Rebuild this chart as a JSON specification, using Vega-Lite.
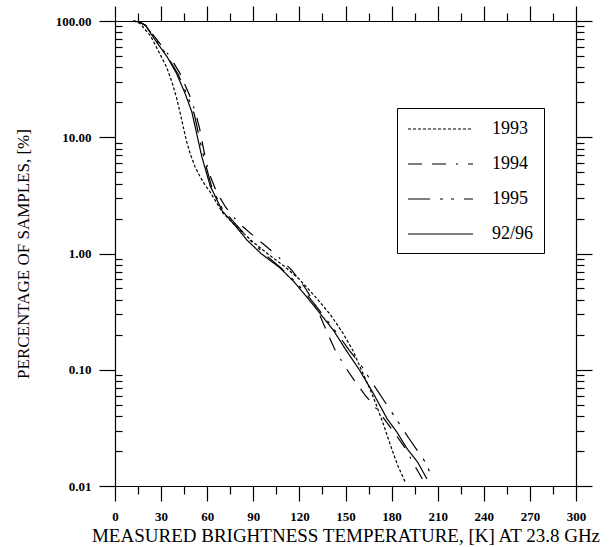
{
  "$schema": "https://vega.github.io/schema/vega-lite/v6.json",
  "width": 461,
  "height": 465,
  "autosize": {"type": "none"},
  "padding": {"left": 115, "top": 21, "right": 40, "bottom": 61},
  "background": "white",
  "config": {
    "view": {"stroke": null},
    "axis": {
      "grid": false,
      "domainColor": "black",
      "tickColor": "black",
      "labelColor": "black",
      "titleColor": "black",
      "labelFont": "Liberation Serif",
      "titleFont": "Liberation Serif",
      "domainWidth": 1.2,
      "tickWidth": 1.2,
      "labelFlush": false,
      "labelOverlap": false,
      "labelBound": false
    }
  },
  "data": {
    "values": [
      {"s": "92/96", "t": 12, "p": 100}, {"s": "92/96", "t": 16, "p": 98}, {"s": "92/96", "t": 20, "p": 91},
      {"s": "92/96", "t": 27, "p": 66}, {"s": "92/96", "t": 34, "p": 49}, {"s": "92/96", "t": 40, "p": 35.5},
      {"s": "92/96", "t": 45.5, "p": 24}, {"s": "92/96", "t": 50, "p": 16.5}, {"s": "92/96", "t": 53, "p": 11},
      {"s": "92/96", "t": 56.5, "p": 6.8}, {"s": "92/96", "t": 62, "p": 3.8}, {"s": "92/96", "t": 70, "p": 2.3},
      {"s": "92/96", "t": 78, "p": 1.75}, {"s": "92/96", "t": 86, "p": 1.3}, {"s": "92/96", "t": 95, "p": 1.0},
      {"s": "92/96", "t": 107, "p": 0.76}, {"s": "92/96", "t": 116, "p": 0.58}, {"s": "92/96", "t": 125, "p": 0.42},
      {"s": "92/96", "t": 133, "p": 0.31}, {"s": "92/96", "t": 142, "p": 0.22}, {"s": "92/96", "t": 150, "p": 0.15},
      {"s": "92/96", "t": 159, "p": 0.10}, {"s": "92/96", "t": 168, "p": 0.063}, {"s": "92/96", "t": 177, "p": 0.038},
      {"s": "92/96", "t": 183.5, "p": 0.029}, {"s": "92/96", "t": 190, "p": 0.021}, {"s": "92/96", "t": 197, "p": 0.016},
      {"s": "92/96", "t": 203, "p": 0.0115},

      {"s": "1993", "t": 12, "p": 100}, {"s": "1993", "t": 16, "p": 96}, {"s": "1993", "t": 23, "p": 75},
      {"s": "1993", "t": 28, "p": 56}, {"s": "1993", "t": 33.6, "p": 40}, {"s": "1993", "t": 37, "p": 30},
      {"s": "1993", "t": 40, "p": 22}, {"s": "1993", "t": 42.5, "p": 16}, {"s": "1993", "t": 44.4, "p": 12.3},
      {"s": "1993", "t": 46.5, "p": 9.3}, {"s": "1993", "t": 48.8, "p": 7.3}, {"s": "1993", "t": 52, "p": 5.6},
      {"s": "1993", "t": 55.3, "p": 4.6}, {"s": "1993", "t": 58.5, "p": 3.9}, {"s": "1993", "t": 61.8, "p": 3.4},
      {"s": "1993", "t": 70, "p": 2.25}, {"s": "1993", "t": 80, "p": 1.65}, {"s": "1993", "t": 90, "p": 1.25},
      {"s": "1993", "t": 100, "p": 0.98}, {"s": "1993", "t": 110, "p": 0.78}, {"s": "1993", "t": 120, "p": 0.6},
      {"s": "1993", "t": 130, "p": 0.43}, {"s": "1993", "t": 140, "p": 0.3}, {"s": "1993", "t": 148, "p": 0.21},
      {"s": "1993", "t": 155, "p": 0.145}, {"s": "1993", "t": 161, "p": 0.095}, {"s": "1993", "t": 166, "p": 0.068},
      {"s": "1993", "t": 170, "p": 0.05}, {"s": "1993", "t": 175, "p": 0.033}, {"s": "1993", "t": 180, "p": 0.021},
      {"s": "1993", "t": 184, "p": 0.015}, {"s": "1993", "t": 189, "p": 0.0107},

      {"s": "1994", "t": 12, "p": 100}, {"s": "1994", "t": 16, "p": 98}, {"s": "1994", "t": 20, "p": 92},
      {"s": "1994", "t": 28, "p": 67}, {"s": "1994", "t": 35, "p": 51}, {"s": "1994", "t": 42, "p": 36},
      {"s": "1994", "t": 48.5, "p": 23}, {"s": "1994", "t": 52, "p": 17}, {"s": "1994", "t": 55, "p": 12},
      {"s": "1994", "t": 58, "p": 7.5}, {"s": "1994", "t": 61, "p": 5}, {"s": "1994", "t": 66, "p": 3.4},
      {"s": "1994", "t": 72, "p": 2.5}, {"s": "1994", "t": 80, "p": 1.85}, {"s": "1994", "t": 92, "p": 1.35},
      {"s": "1994", "t": 104, "p": 1.0}, {"s": "1994", "t": 115, "p": 0.72}, {"s": "1994", "t": 124, "p": 0.5},
      {"s": "1994", "t": 130, "p": 0.37}, {"s": "1994", "t": 134, "p": 0.28}, {"s": "1994", "t": 138, "p": 0.21},
      {"s": "1994", "t": 143, "p": 0.15}, {"s": "1994", "t": 149, "p": 0.11}, {"s": "1994", "t": 156, "p": 0.08},
      {"s": "1994", "t": 163, "p": 0.06}, {"s": "1994", "t": 172, "p": 0.043}, {"s": "1994", "t": 180, "p": 0.031},
      {"s": "1994", "t": 188, "p": 0.022}, {"s": "1994", "t": 195, "p": 0.015}, {"s": "1994", "t": 200, "p": 0.0115},

      {"s": "1995", "t": 12, "p": 100}, {"s": "1995", "t": 16, "p": 98}, {"s": "1995", "t": 20, "p": 91},
      {"s": "1995", "t": 28, "p": 65}, {"s": "1995", "t": 34, "p": 50}, {"s": "1995", "t": 41, "p": 35},
      {"s": "1995", "t": 47, "p": 23}, {"s": "1995", "t": 51.5, "p": 16}, {"s": "1995", "t": 54.5, "p": 10.5},
      {"s": "1995", "t": 58, "p": 6.5}, {"s": "1995", "t": 63, "p": 3.7}, {"s": "1995", "t": 70, "p": 2.4},
      {"s": "1995", "t": 80, "p": 1.7}, {"s": "1995", "t": 88, "p": 1.3}, {"s": "1995", "t": 97, "p": 1.0},
      {"s": "1995", "t": 108, "p": 0.75}, {"s": "1995", "t": 118, "p": 0.56}, {"s": "1995", "t": 127, "p": 0.41},
      {"s": "1995", "t": 135, "p": 0.3}, {"s": "1995", "t": 144, "p": 0.21}, {"s": "1995", "t": 152, "p": 0.15},
      {"s": "1995", "t": 160, "p": 0.11}, {"s": "1995", "t": 168, "p": 0.075}, {"s": "1995", "t": 176, "p": 0.052},
      {"s": "1995", "t": 184, "p": 0.036}, {"s": "1995", "t": 191, "p": 0.026}, {"s": "1995", "t": 197, "p": 0.02},
      {"s": "1995", "t": 202, "p": 0.016}, {"s": "1995", "t": 205, "p": 0.013}
    ]
  },
  "layer": [
    {
      "mark": {"type": "line", "color": "black"},
      "encoding": {
        "x": {
          "field": "t", "type": "quantitative",
          "scale": {"domain": [0, 300], "nice": false, "zero": false},
          "axis": {
            "orient": "bottom",
            "values": [0, 30, 60, 90, 120, 150, 180, 210, 240, 270, 300],
            "tickSize": 15,
            "labelFontSize": 13,
            "labelFontWeight": "bold",
            "labelPadding": 9,
            "labelOverlap": false,
            "labelBound": false,
            "labelFlush": false,
            "title": "MEASURED BRIGHTNESS TEMPERATURE, [K] AT 23.8 GHz",
            "titleFontSize": 19,
            "titleFontWeight": "normal",
            "titlePadding": 3
          }
        },
        "y": {
          "field": "p", "type": "quantitative",
          "scale": {"type": "log", "domain": [0.01, 100], "nice": false},
          "axis": {
            "orient": "left",
            "values": [0.01, 0.1, 1, 10, 100],
            "format": ".2f",
            "tickSize": 16,
            "labelFontSize": 13,
            "labelFontWeight": "bold",
            "labelPadding": 8,
            "title": "PERCENTAGE OF SAMPLES, [%]",
            "titleFontSize": 17,
            "titleFontWeight": "normal",
            "titlePadding": 23
          }
        },
        "detail": {"field": "s"},
        "strokeDash": {
          "field": "s", "type": "nominal",
          "scale": {
            "domain": ["1993", "1994", "1995", "92/96"],
            "range": [[3, 2], [14, 10, 14, 10, 2, 10], [22, 10, 3, 8, 3, 10], [1, 0]]
          },
          "legend": {
            "orient": "none",
            "legendX": 282,
            "legendY": 87,
            "title": null,
            "symbolType": "M-1,0H5.5",
            "symbolSize": 400,
            "symbolStrokeWidth": 1.3,
            "symbolStrokeColor": "black",
            "symbolFillColor": "transparent",
            "labelFont": "Liberation Serif",
            "labelFontSize": 18,
            "labelColor": "black",
            "labelOffset": 63,
            "strokeColor": "black",
            "fillColor": "white",
            "padding": 10,
            "rowPadding": 15
          }
        },
        "strokeWidth": {
          "field": "s", "type": "nominal",
          "scale": {"domain": ["1993", "1994", "1995", "92/96"], "range": [1.2, 1.2, 1.2, 1.7]},
          "legend": null
        }
      }
    },
    {
      "mark": {"type": "point", "opacity": 0},
      "encoding": {
        "x": {
          "field": "t", "type": "quantitative",
          "scale": {"domain": [0, 300], "nice": false, "zero": false},
          "axis": {"orient": "top", "values": [0, 30, 60, 90, 120, 150, 180, 210, 240, 270, 300], "tickSize": 15, "labels": false, "title": null}
        },
        "y": {
          "field": "p", "type": "quantitative",
          "scale": {"type": "log", "domain": [0.01, 100], "nice": false},
          "axis": {"orient": "right", "values": [0.01, 0.1, 1, 10, 100], "tickSize": 16, "labels": false, "title": null}
        }
      }
    },
    {
      "mark": {"type": "point", "opacity": 0},
      "encoding": {
        "x": {
          "field": "t", "type": "quantitative",
          "scale": {"domain": [0, 300], "nice": false, "zero": false},
          "axis": {"orient": "bottom", "values": [15, 45, 75, 105, 135, 165, 195, 225, 255, 285], "tickSize": 8, "labels": false, "domain": false, "title": null}
        },
        "y": {
          "field": "p", "type": "quantitative",
          "scale": {"type": "log", "domain": [0.01, 100], "nice": false},
          "axis": {"orient": "left", "values": [0.02, 0.03, 0.04, 0.05, 0.06, 0.07, 0.08, 0.09, 0.2, 0.3, 0.4, 0.5, 0.6, 0.7, 0.8, 0.9, 2, 3, 4, 5, 6, 7, 8, 9, 20, 30, 40, 50, 60, 70, 80, 90], "tickSize": -7, "labels": false, "domain": false, "title": null}
        }
      }
    },
    {
      "mark": {"type": "point", "opacity": 0},
      "encoding": {
        "x": {
          "field": "t", "type": "quantitative",
          "scale": {"domain": [0, 300], "nice": false, "zero": false},
          "axis": {"orient": "top", "values": [15, 45, 75, 105, 135, 165, 195, 225, 255, 285], "tickSize": 8, "labels": false, "domain": false, "title": null}
        },
        "y": {
          "field": "p", "type": "quantitative",
          "scale": {"type": "log", "domain": [0.01, 100], "nice": false},
          "axis": {"orient": "right", "values": [0.02, 0.03, 0.04, 0.05, 0.06, 0.07, 0.08, 0.09, 0.2, 0.3, 0.4, 0.5, 0.6, 0.7, 0.8, 0.9, 2, 3, 4, 5, 6, 7, 8, 9, 20, 30, 40, 50, 60, 70, 80, 90], "tickSize": 8, "labels": false, "domain": false, "title": null}
        }
      }
    }
  ],
  "resolve": {"axis": {"x": "independent", "y": "independent"}}
}
